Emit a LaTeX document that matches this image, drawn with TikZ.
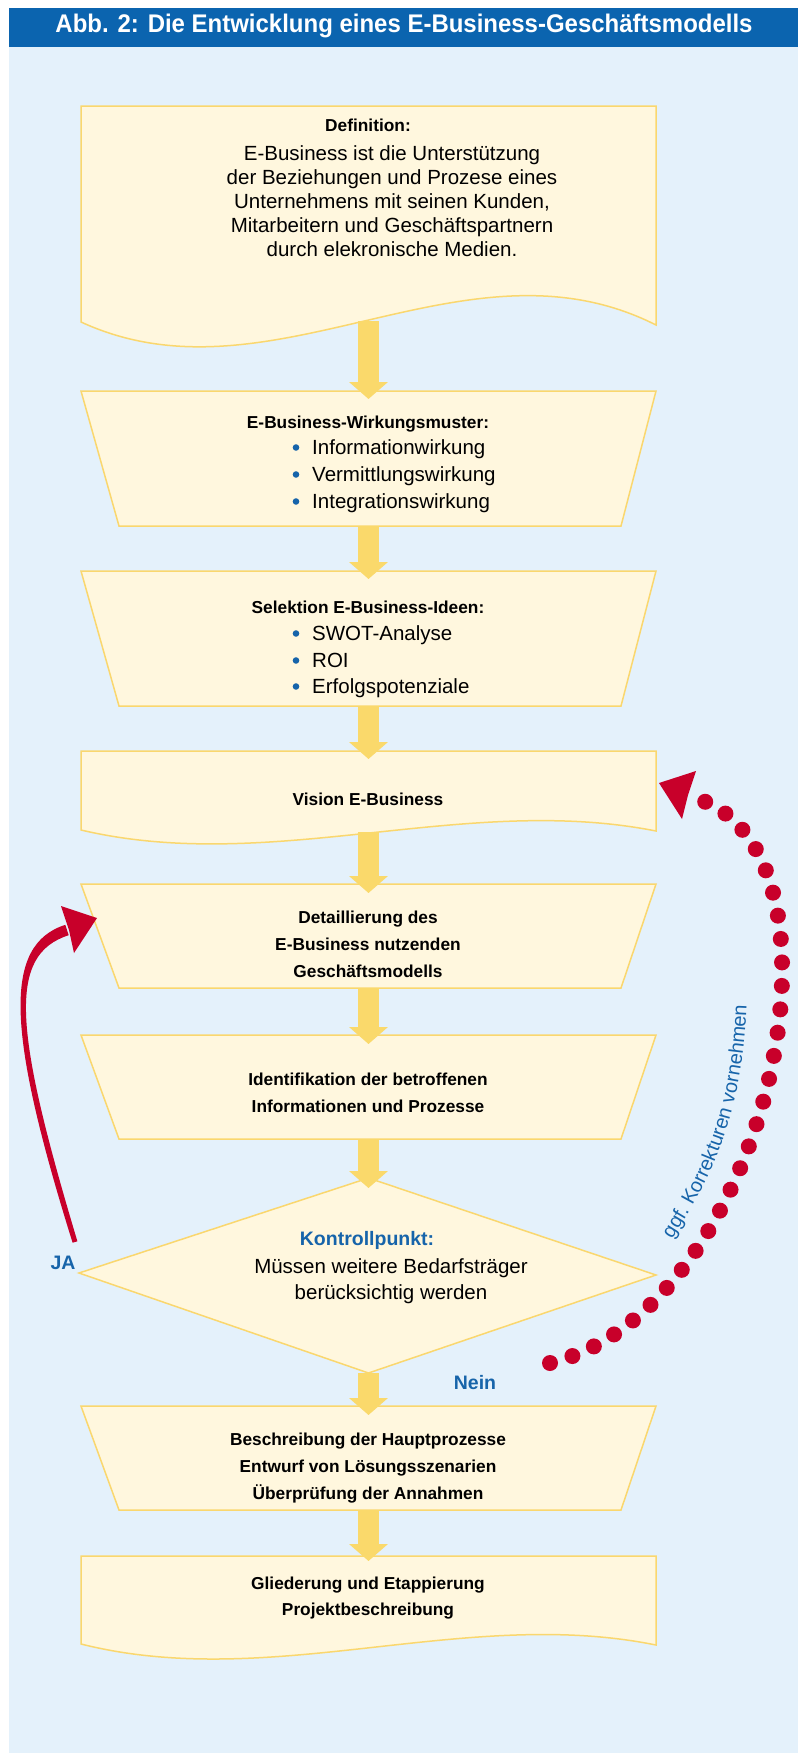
\documentclass[tikz,border=0pt]{standalone}
\usepackage{fontspec}
\setmainfont{Liberation Sans}
\newfontfamily\titlefont[FakeStretch=0.94]{Liberation Sans}
\usetikzlibrary{arrows.meta,decorations.text}

\definecolor{titleblue}{RGB}{11,100,175}
\definecolor{paleblue}{RGB}{228,241,251}
\definecolor{boxfill}{RGB}{255,247,222}
\definecolor{boxline}{RGB}{250,215,110}
\definecolor{flowyellow}{RGB}{250,217,107}
\definecolor{loopred}{RGB}{200,0,42}
\definecolor{labelblue}{RGB}{22,100,170}

\tikzset{
  box/.style={fill=boxfill, draw=boxline, line width=1.5pt, line join=miter},
  flow/.style={draw=flowyellow, line width=21pt, -{Triangle[width=38pt,length=17pt]}},
  regtext/.style={font=\fontsize{20.5}{24}\selectfont, inner sep=0pt},
  boldtext/.style={font=\fontsize{17.3}{27}\selectfont\bfseries, inner sep=0pt},
  bluetext/.style={font=\fontsize{19.5}{24}\selectfont\bfseries, text=labelblue, inner sep=0pt},
}

\begin{document}
\begin{tikzpicture}[x=1pt,y=-1pt]
  %%%%% FRAME %%%%%
  \useasboundingbox (0,0) rectangle (798,1753);
  \fill[white] (0,0) rectangle (798,1753);
  \fill[paleblue] (9,47) rectangle (798,1753);
  \fill[titleblue] (9,8) rectangle (798,47);
  \node[anchor=base, text=white, inner sep=0pt, font=\titlefont\bfseries\fontsize{25.5}{30}\selectfont] (title) at (404,33) {Abb. 2: Die Entwicklung eines E-Business-Geschäftsmodells};

  %%%%% BOXES %%%%%
  \draw[box] (81,106) -- (656,106) -- (656,325) .. controls (464,228) and (272,410) .. (81,322) -- cycle;
  \draw[box] (81,391) -- (656,391) -- (621,526) -- (119,526) -- cycle;
  \draw[box] (81,571) -- (656,571) -- (621,706) -- (119,706) -- cycle;
  \draw[box] (81,751) -- (656,751) -- (656,831) .. controls (464,793) and (272,875) .. (81,830) -- cycle;
  \draw[box] (81,884) -- (656,884) -- (621,988) -- (119,988) -- cycle;
  \draw[box] (81,1035) -- (656,1035) -- (621,1139) -- (119,1139) -- cycle;
  \draw[box] (368.5,1178) -- (656,1275) -- (368.5,1373) -- (79,1273) -- cycle;
  \draw[box] (81,1406) -- (656,1406) -- (621,1510) -- (119,1510) -- cycle;
  \draw[box] (81,1556) -- (656,1556) -- (656,1645) .. controls (464,1606) and (272,1692) .. (81,1644) -- cycle;

  %%%%% TEXTS %%%%%
  % multi-line nodes sit on the baseline of their last line
  \node[boldtext, anchor=base] (def) at (368,131) {Definition:};
  \node[regtext, anchor=base, align=center] (defbody) at (392,256) {E-Business ist die Unterstützung\\der Beziehungen und Prozese eines\\Unternehmens mit seinen Kunden,\\Mitarbeitern und Geschäftspartnern\\durch elekronische Medien.};

  \node[boldtext, anchor=base] (wirk) at (368,428) {E-Business-Wirkungsmuster:};
  \node[regtext, anchor=base west] (wirk1) at (312,454) {Informationwirkung};
  \node[regtext, anchor=base west] (wirk2) at (312,481) {Vermittlungswirkung};
  \node[regtext, anchor=base west] (wirk3) at (312,508) {Integrationswirkung};
  \fill[labelblue] (296,447.5) circle (3.3pt);
  \fill[labelblue] (296,474.5) circle (3.3pt);
  \fill[labelblue] (296,501.5) circle (3.3pt);

  \node[boldtext, anchor=base] (sel) at (368,613) {Selektion E-Business-Ideen:};
  \node[regtext, anchor=base west] (sel1) at (312,640) {SWOT-Analyse};
  \node[regtext, anchor=base west] (sel2) at (312,667) {ROI};
  \node[regtext, anchor=base west] (sel3) at (312,693) {Erfolgspotenziale};
  \fill[labelblue] (296,633.5) circle (3.3pt);
  \fill[labelblue] (296,660.5) circle (3.3pt);
  \fill[labelblue] (296,686.5) circle (3.3pt);

  \node[boldtext, anchor=base] (vision) at (368,805) {Vision E-Business};
  \node[boldtext, anchor=base, align=center] (detail) at (368,977) {Detaillierung des\\E-Business nutzenden\\Geschäftsmodells};
  \node[boldtext, anchor=base, align=center] (ident) at (368,1112) {Identifikation der betroffenen\\Informationen und Prozesse};
  \node[bluetext, anchor=base] (kontroll) at (367,1245) {Kontrollpunkt:};
  \node[regtext, anchor=base, align=center, font=\fontsize{20.5}{26}\selectfont] (frage) at (391,1299) {Müssen weitere Bedarfsträger\\berücksichtig werden};
  \node[boldtext, anchor=base, align=center] (beschr) at (368,1499) {Beschreibung der Hauptprozesse\\Entwurf von Lösungsszenarien\\Überprüfung der Annahmen};
  \node[boldtext, anchor=base, align=center, font=\fontsize{17.3}{26}\selectfont\bfseries] (glied) at (368,1615) {Gliederung und Etappierung\\Projektbeschreibung};

  \node[bluetext, anchor=base] (ja) at (63,1269) {JA};
  \node[bluetext, anchor=base] (nein) at (475,1389) {Nein};

  %%%%% FLOW ARROWS %%%%%
  \coordinate (def-out) at (368.5,321);
  \coordinate (wirk-in) at (368.5,399);
  \coordinate (wirk-out) at (368.5,526);
  \coordinate (sel-in) at (368.5,579);
  \coordinate (sel-out) at (368.5,706);
  \coordinate (vision-in) at (368.5,759);
  \coordinate (vision-out) at (368.5,832);
  \coordinate (detail-in) at (368.5,893);
  \coordinate (detail-out) at (368.5,988);
  \coordinate (ident-in) at (368.5,1044);
  \coordinate (ident-out) at (368.5,1139);
  \coordinate (kontroll-in) at (368.5,1188);
  \coordinate (kontroll-out) at (368.5,1373);
  \coordinate (beschr-in) at (368.5,1415);
  \coordinate (beschr-out) at (368.5,1510);
  \coordinate (glied-in) at (368.5,1561);

  \draw[flow] (def-out) -- (wirk-in);
  \draw[flow] (wirk-out) -- (sel-in);
  \draw[flow] (sel-out) -- (vision-in);
  \draw[flow] (vision-out) -- (detail-in);
  \draw[flow] (detail-out) -- (ident-in);
  \draw[flow] (ident-out) -- (kontroll-in);
  \draw[flow] (kontroll-out) -- (beschr-in);
  \draw[flow] (beschr-out) -- (glied-in);

  %%%%% LOOPS %%%%%
  % ja: back to detaillierung
  \coordinate (ja-start) at (75,1242);
  \coordinate (ja-end) at (67,930);
  \fill[loopred] (72.6,1242.7) .. controls (6,1030) and (3,945) .. (65.3,924.8) -- (68.7,935.2) .. controls (7,955) and (14,1030) .. (77.4,1241.3) -- cycle;
  \fill[loopred] (61,906) -- (97,918) -- (74,953) -- (69,930) -- cycle;

  % nein: korrekturen, back to vision
  \coordinate (nein-start) at (550,1363);
  \coordinate (nein-end) at (695,798);
  \draw[loopred, line width=16pt, line cap=round, dash pattern=on 0pt off 23.5pt] (nein-start) .. controls (770,1310) and (865,850) .. (nein-end);
  \fill[loopred] (696,771) -- (659,783) -- (682,819) -- (688,795) -- cycle;
  \path[decorate, decoration={text along path, text align=center,
      text={|\fontsize{20}{24}\selectfont\color{labelblue}|ggf. Korrekturen vornehmen}}]
    (664,1252) .. controls (700,1195) and (745,1130) .. (747,990);
\end{tikzpicture}
\end{document}
